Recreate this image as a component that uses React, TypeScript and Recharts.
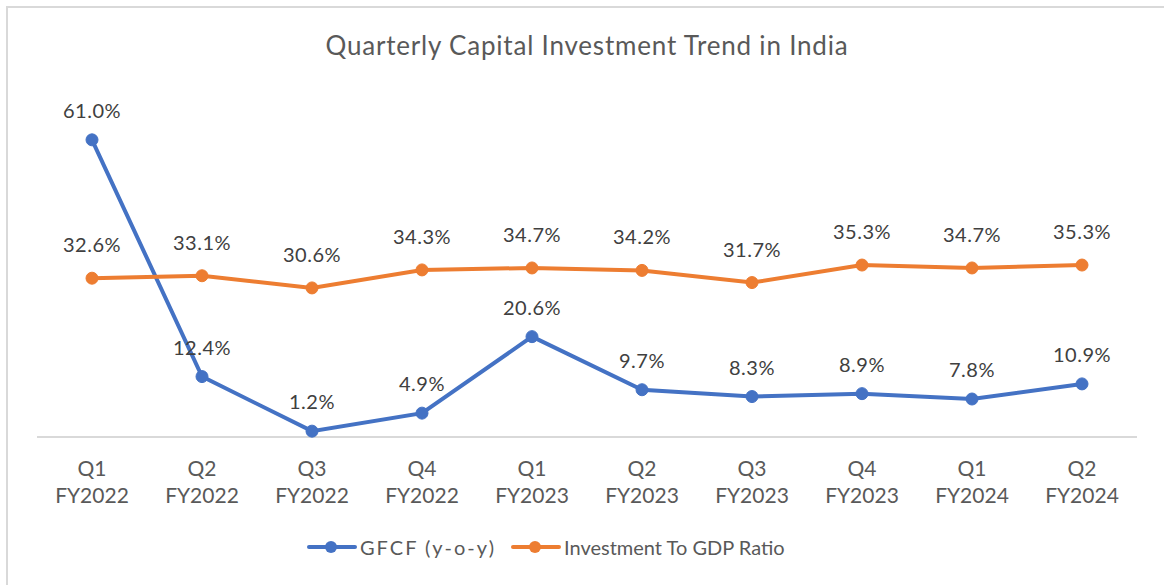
import React from 'react';
import { LineChart, Line, XAxis, YAxis, LabelList } from 'recharts';

const quarters = ['Q1', 'Q2', 'Q3', 'Q4', 'Q1', 'Q2', 'Q3', 'Q4', 'Q1', 'Q2'];
const fiscalYears = ['FY2022', 'FY2022', 'FY2022', 'FY2022', 'FY2023', 'FY2023', 'FY2023', 'FY2023', 'FY2024', 'FY2024'];
const gfcf = [61.0, 12.4, 1.2, 4.9, 20.6, 9.7, 8.3, 8.9, 7.8, 10.9];
const investmentToGdp = [32.6, 33.1, 30.6, 34.3, 34.7, 34.2, 31.7, 35.3, 34.7, 35.3];

const data = quarters.map((q, i) => ({
  key: `${q}|${fiscalYears[i]}`,
  gfcf: gfcf[i],
  ratio: investmentToGdp[i],
}));

const FONT = 'Lato, "Open Sans", sans-serif';
const BLUE = '#4472C4';
const ORANGE = '#ED7D31';

const Tick = (props: any) => {
  const { x, y, payload } = props;
  const [q, fy] = String(payload.value).split('|');
  return (
    <text x={x} y={y} textAnchor="middle" fill="#595959" fontSize={21} fontFamily={FONT}>
      <tspan x={x} dy={31}>{q}</tspan>
      <tspan x={x} dy={27}>{fy}</tspan>
    </text>
  );
};

const fmt = (v: any) => `${Number(v).toFixed(1)}%`;

const LegendItem = ({ color, label, left, spacing }: { color: string; label: string; left: number; spacing: number }) => (
  <div style={{ position: 'absolute', left, top: 535, display: 'flex', alignItems: 'center', whiteSpace: 'nowrap' }}>
    <svg width={50} height={14} style={{ marginRight: 3 }}>
      <line x1={2} y1={7} x2={48} y2={7} stroke={color} strokeWidth={4} strokeLinecap="round" />
      <circle cx={24} cy={7} r={6} fill={color} />
    </svg>
    <span style={{ fontFamily: FONT, fontSize: 20, color: '#595959', letterSpacing: spacing }}>{label}</span>
  </div>
);

export default function App() {
  return (
    <div style={{ position: 'absolute', left: 0, top: 0, width: 1164, height: 585, background: '#fff', overflow: 'hidden' }}>
      <div
        style={{
          position: 'absolute',
          left: 6,
          top: 6,
          width: 1164,
          height: 585,
          borderTop: '2px solid #d9d9d9',
          borderLeft: '2px solid #d9d9d9',
        }}
      />
      <div
        style={{
          position: 'absolute',
          left: 0,
          top: 29,
          width: 1174,
          textAlign: 'center',
          fontFamily: FONT,
          fontSize: 26,
          letterSpacing: 0.8,
          color: '#595959',
        }}
      >
        Quarterly Capital Investment Trend in India
      </div>
      <div style={{ position: 'absolute', left: 0, top: 0 }}>
        <LineChart width={1164} height={585} data={data} margin={{ top: 96, right: 27, bottom: 88, left: 37 }}>
          <XAxis
            dataKey="key"
            tick={<Tick />}
            tickLine={false}
            axisLine={{ stroke: '#d9d9d9', strokeWidth: 2 }}
            height={60}
            interval={0}
            padding={{ left: 55, right: 55 }}
          />
          <YAxis hide domain={[0, 70]} />
          <Line
            type="linear"
            dataKey="gfcf"
            stroke={BLUE}
            strokeWidth={4}
            dot={{ r: 6, fill: BLUE, stroke: BLUE, strokeWidth: 1 }}
            isAnimationActive={false}
          >
            <LabelList dataKey="gfcf" position="top" offset={22} formatter={fmt} fill="#404040" fontSize={20} fontFamily={FONT} letterSpacing={0.5} />
          </Line>
          <Line
            type="linear"
            dataKey="ratio"
            stroke={ORANGE}
            strokeWidth={4}
            dot={{ r: 6, fill: ORANGE, stroke: ORANGE, strokeWidth: 1 }}
            isAnimationActive={false}
          >
            <LabelList dataKey="ratio" position="top" offset={26} formatter={fmt} fill="#404040" fontSize={20} fontFamily={FONT} letterSpacing={0.5} />
          </Line>
        </LineChart>
      </div>
      <LegendItem color={BLUE} label="GFCF (y-o-y)" left={307} spacing={2} />
      <LegendItem color={ORANGE} label="Investment To GDP Ratio" left={511} spacing={0} />
    </div>
  );
}
